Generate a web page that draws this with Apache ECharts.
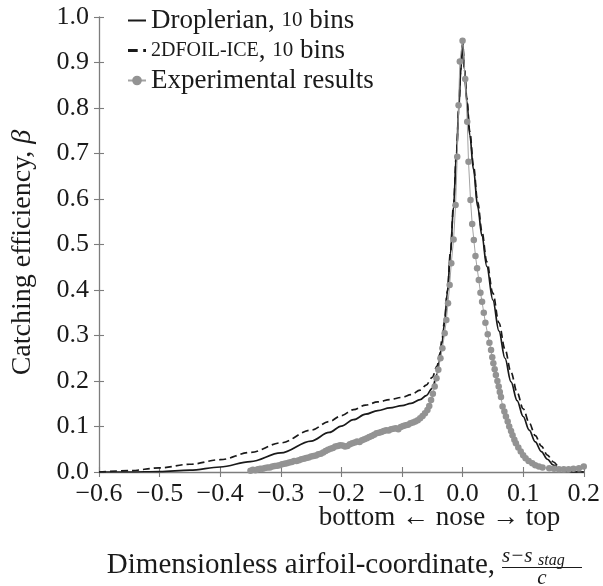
<!DOCTYPE html>
<html>
<head>
<meta charset="utf-8">
<script src="https://cdn.jsdelivr.net/npm/echarts@6/dist/echarts.min.js"></script>
<style>
  html, body { margin: 0; padding: 0; background: #ffffff; }
  #chart { width: 603px; height: 586px; }
</style>
</head>
<body>
<div id="chart"></div>
<script>
// Catching efficiency along the airfoil surface (negative = bottom, positive = top)

// Droplerian solver, 10 droplet bins
const dropX = [-0.600, -0.550, -0.500, -0.450, -0.400, -0.350, -0.300, -0.250, -0.220, -0.200,
  -0.180, -0.160, -0.140, -0.120, -0.100, -0.085, -0.070, -0.060, -0.050, -0.042,
  -0.038, -0.034, -0.030, -0.025, -0.020, -0.015, -0.010, -0.006, -0.003, 0.000,
  0.003, 0.007, 0.012, 0.018, 0.025, 0.032, 0.040, 0.050, 0.060, 0.070,
  0.080, 0.090, 0.100, 0.110, 0.120, 0.130, 0.140, 0.150, 0.160, 0.170,
  0.180, 0.200];
const dropBeta = [0.000, 0.000, 0.001, 0.004, 0.011, 0.023, 0.042, 0.068, 0.087, 0.101,
  0.115, 0.127, 0.135, 0.141, 0.146, 0.151, 0.159, 0.168, 0.184, 0.215,
  0.245, 0.282, 0.325, 0.395, 0.480, 0.582, 0.700, 0.805, 0.880, 0.945,
  0.885, 0.815, 0.740, 0.665, 0.583, 0.519, 0.452, 0.378, 0.310, 0.250,
  0.198, 0.157, 0.122, 0.092, 0.066, 0.045, 0.028, 0.015, 0.006, 0.002,
  0.000, 0.000];

// 2DFOIL-ICE, 10 droplet bins
const foilX = [-0.600, -0.550, -0.500, -0.450, -0.400, -0.350, -0.300, -0.250, -0.220, -0.200,
  -0.180, -0.160, -0.140, -0.120, -0.100, -0.085, -0.070, -0.060, -0.050, -0.042,
  -0.038, -0.034, -0.030, -0.025, -0.020, -0.015, -0.010, -0.006, -0.003, 0.000,
  0.003, 0.007, 0.012, 0.018, 0.025, 0.032, 0.040, 0.050, 0.060, 0.070,
  0.080, 0.090, 0.100, 0.110, 0.120, 0.130, 0.140, 0.150, 0.160, 0.170,
  0.180, 0.190, 0.200];
const foilBeta = [0.000, 0.003, 0.009, 0.017, 0.027, 0.043, 0.064, 0.092, 0.111, 0.124,
  0.137, 0.147, 0.154, 0.159, 0.164, 0.170, 0.180, 0.191, 0.208, 0.233,
  0.258, 0.290, 0.330, 0.398, 0.483, 0.585, 0.703, 0.808, 0.884, 0.950,
  0.890, 0.822, 0.748, 0.673, 0.593, 0.528, 0.462, 0.393, 0.328, 0.270,
  0.219, 0.175, 0.139, 0.108, 0.080, 0.057, 0.037, 0.022, 0.010, 0.004,
  0.001, 0.000, 0.000];

// Experimental measurements
const expX = [-0.350, -0.346, -0.342, -0.338, -0.334, -0.330, -0.326, -0.322, -0.318, -0.314,
  -0.310, -0.306, -0.302, -0.298, -0.294, -0.290, -0.286, -0.282, -0.278, -0.274,
  -0.270, -0.266, -0.262, -0.258, -0.254, -0.250, -0.246, -0.242, -0.238, -0.234,
  -0.230, -0.226, -0.222, -0.218, -0.214, -0.210, -0.206, -0.202, -0.198, -0.194,
  -0.190, -0.186, -0.182, -0.178, -0.174, -0.170, -0.166, -0.162, -0.158, -0.154,
  -0.150, -0.146, -0.142, -0.138, -0.134, -0.130, -0.126, -0.122, -0.118, -0.114,
  -0.110, -0.106, -0.102, -0.098, -0.094, -0.090, -0.086, -0.082, -0.078, -0.074,
  -0.070, -0.066, -0.062, -0.058, -0.055, -0.052, -0.049, -0.046, -0.043, -0.040,
  -0.0365, -0.0333, -0.0295, -0.0268, -0.0240, -0.0213, -0.0186, -0.0148, -0.0115, -0.0088,
  -0.0066, -0.0045, 0.0000, 0.0044, 0.0077, 0.0098, 0.0131, 0.0159, 0.0186, 0.0213,
  0.0240, 0.0268, 0.0295, 0.0322, 0.0350, 0.0377, 0.0415, 0.0443, 0.0470, 0.0490,
  0.0508, 0.0530, 0.0550, 0.0575, 0.0596, 0.0615, 0.0634, 0.0660, 0.0690, 0.0716,
  0.0745, 0.0770, 0.0800, 0.0825, 0.0855, 0.0880, 0.0920, 0.0960, 0.1000, 0.1040,
  0.1090, 0.1150, 0.1200, 0.1260, 0.1320, 0.1430, 0.1510, 0.1590, 0.1670, 0.1750,
  0.1830, 0.1920, 0.2000];
const expBeta = [0.003, 0.005, 0.004, 0.006, 0.007, 0.007, 0.009, 0.010, 0.010, 0.012,
  0.013, 0.014, 0.015, 0.017, 0.018, 0.019, 0.021, 0.022, 0.024, 0.024,
  0.026, 0.028, 0.029, 0.031, 0.032, 0.034, 0.035, 0.036, 0.039, 0.040,
  0.043, 0.046, 0.049, 0.051, 0.053, 0.056, 0.057, 0.059, 0.058, 0.056,
  0.057, 0.061, 0.063, 0.065, 0.067, 0.066, 0.070, 0.072, 0.074, 0.077,
  0.079, 0.082, 0.085, 0.086, 0.088, 0.090, 0.092, 0.091, 0.094, 0.095,
  0.096, 0.094, 0.099, 0.101, 0.103, 0.104, 0.107, 0.109, 0.111, 0.114,
  0.118, 0.123, 0.129, 0.136, 0.145, 0.158, 0.172, 0.188, 0.206, 0.225,
  0.250, 0.272, 0.305, 0.334, 0.371, 0.411, 0.459, 0.511, 0.587, 0.693,
  0.806, 0.902, 0.948, 0.864, 0.770, 0.682, 0.598, 0.545, 0.510, 0.475,
  0.448, 0.422, 0.394, 0.374, 0.350, 0.328, 0.303, 0.284, 0.268, 0.252,
  0.239, 0.226, 0.213, 0.200, 0.188, 0.176, 0.165, 0.144, 0.133, 0.122,
  0.111, 0.100, 0.090, 0.081, 0.071, 0.063, 0.054, 0.045, 0.037, 0.030,
  0.024, 0.019, 0.015, 0.012, 0.010, 0.008, 0.007, 0.006, 0.006, 0.006,
  0.007, 0.008, 0.012];

const seriesNames = ['Droplerian, 10 bins', '2DFOIL-ICE, 10 bins', 'Experimental results'];

// Axis ranges and tick spacing
const xRange = [-0.6, 0.2];
const yRange = [0.0, 1.0];
const tickStep = 0.1;

const FONT = '"Liberation Serif", "DejaVu Serif", serif';
const INK = '#1a1a1a';
const AXIS_GREY = '#7d7d7d';
const DOT_GREY = '#939393';

const zip = (xs, ys) => xs.map((x, i) => [x, ys[i]]);
const fmt = v => (Math.abs(v) < 1e-9 ? '0.0' : v.toFixed(1).replace('-', '\u2212'));

const baseAxis = {
  type: 'value',
  interval: tickStep,
  splitLine: { show: false },
  axisLine: { show: true, onZero: false, lineStyle: { color: AXIS_GREY, width: 1.3 } },
  axisTick: { show: true, length: 5, lineStyle: { color: AXIS_GREY, width: 1.1 } }
};

const chart = echarts.init(document.getElementById('chart'), null, { renderer: 'canvas' });

chart.setOption({
  animation: false,
  backgroundColor: '#ffffff',
  textStyle: { fontFamily: FONT },
  grid: { left: 99, right: 18, top: 17, bottom: 114, containLabel: false },
  legend: {
    orient: 'vertical',
    left: 122,
    top: 2,
    itemWidth: 18,
    itemHeight: 12,
    itemGap: 3,
    data: [
      { name: seriesNames[0], icon: 'path://M0,0H18V2H0Z' },
      { name: seriesNames[1], icon: 'path://M0,0H7V2H0ZM11,0H13V2H11Z' },
      { name: seriesNames[2] }
    ],
    formatter: name => {
      if (name.indexOf('2DFOIL') === 0) return '{sc|2DFOIL-ICE}, {os|10} bins';
      if (name.indexOf('Droplerian') === 0) return 'Droplerian, {os|10} bins';
      return name;
    },
    textStyle: {
      fontFamily: FONT, fontSize: 27, color: INK, lineHeight: 27, padding: [0, 0, 0, 0],
      rich: {
        sc: { fontFamily: FONT, fontSize: 20, color: INK },
        os: { fontFamily: FONT, fontSize: 21, color: INK }
      }
    }
  },
  xAxis: [
    Object.assign({}, baseAxis, {
      min: xRange[0], max: xRange[1], position: 'bottom',
      axisTick: Object.assign({}, baseAxis.axisTick, { inside: false }),
      axisLabel: { margin: 9, fontFamily: FONT, fontSize: 26, color: INK, formatter: fmt }
    }),
    Object.assign({}, baseAxis, {
      min: xRange[0], max: xRange[1], position: 'bottom',
      axisLine: { show: false, onZero: false },
      axisTick: Object.assign({}, baseAxis.axisTick, { inside: true }),
      axisLabel: { show: false }
    })
  ],
  yAxis: [
    Object.assign({}, baseAxis, {
      min: yRange[0], max: yRange[1], position: 'left',
      axisTick: Object.assign({}, baseAxis.axisTick, { inside: false }),
      axisLabel: { margin: 10, fontFamily: FONT, fontSize: 26, color: INK, formatter: fmt },
      name: 'Catching efficiency, {b|\u03b2}',
      nameLocation: 'middle',
      nameGap: 62,
      nameTextStyle: {
        fontFamily: FONT, fontSize: 28, color: INK, padding: [0, 16, 0, 0],
        rich: { b: { fontFamily: FONT, fontSize: 28, fontStyle: 'italic', color: INK } }
      }
    }),
    Object.assign({}, baseAxis, {
      min: yRange[0], max: yRange[1], position: 'left',
      axisLine: { show: false, onZero: false },
      axisTick: Object.assign({}, baseAxis.axisTick, { inside: true }),
      axisLabel: { show: false }
    })
  ],
  series: [
    {
      name: seriesNames[0], type: 'line', xAxisIndex: 0, yAxisIndex: 0,
      data: zip(dropX, dropBeta), showSymbol: false, symbol: 'none',
      smooth: 0.35, smoothMonotone: 'x',
      lineStyle: { color: INK, width: 1.7 }, itemStyle: { color: INK }, z: 3
    },
    {
      name: seriesNames[1], type: 'line', xAxisIndex: 0, yAxisIndex: 0,
      data: zip(foilX, foilBeta), showSymbol: false, symbol: 'none',
      smooth: 0.35, smoothMonotone: 'x',
      lineStyle: { color: INK, width: 1.7, type: [7, 4] }, itemStyle: { color: INK }, z: 3
    },
    {
      name: seriesNames[2], type: 'line', xAxisIndex: 0, yAxisIndex: 0,
      data: zip(expX, expBeta), symbol: 'circle', symbolSize: 6.5, showSymbol: true,
      lineStyle: { color: '#a3a3a3', width: 1 }, itemStyle: { color: DOT_GREY }, z: 4
    }
  ]
});

// Axis caption under the tick labels and the axis title with its fraction
const nosePx = chart.convertToPixel({ xAxisIndex: 0 }, 0);
chart.setOption({
  graphic: [
    {
      type: 'text', x: nosePx - 23, y: 518,
      style: { text: 'bottom \u2190 nose \u2192 top', font: '27px ' + FONT, fill: INK,
        align: 'center', verticalAlign: 'middle' }
    },
    {
      type: 'text', x: 495, y: 565,
      style: { text: 'Dimensionless airfoil-coordinate,', font: '29px ' + FONT, fill: INK,
        align: 'right', verticalAlign: 'middle' }
    },
    {
      type: 'text', x: 502, y: 556,
      style: { text: 's\u2212s', font: 'italic 21px ' + FONT, fill: INK,
        align: 'left', verticalAlign: 'middle' }
    },
    {
      type: 'text', x: 538, y: 561,
      style: { text: 'stag', font: 'italic 16px ' + FONT, fill: INK,
        align: 'left', verticalAlign: 'middle' }
    },
    {
      type: 'line', shape: { x1: 502, y1: 567.5, x2: 582, y2: 567.5 },
      style: { stroke: INK, lineWidth: 1 }
    },
    {
      type: 'text', x: 542, y: 578,
      style: { text: 'c', font: 'italic 21px ' + FONT, fill: INK,
        align: 'center', verticalAlign: 'middle' }
    }
  ]
});
</script>
</body>
</html>
